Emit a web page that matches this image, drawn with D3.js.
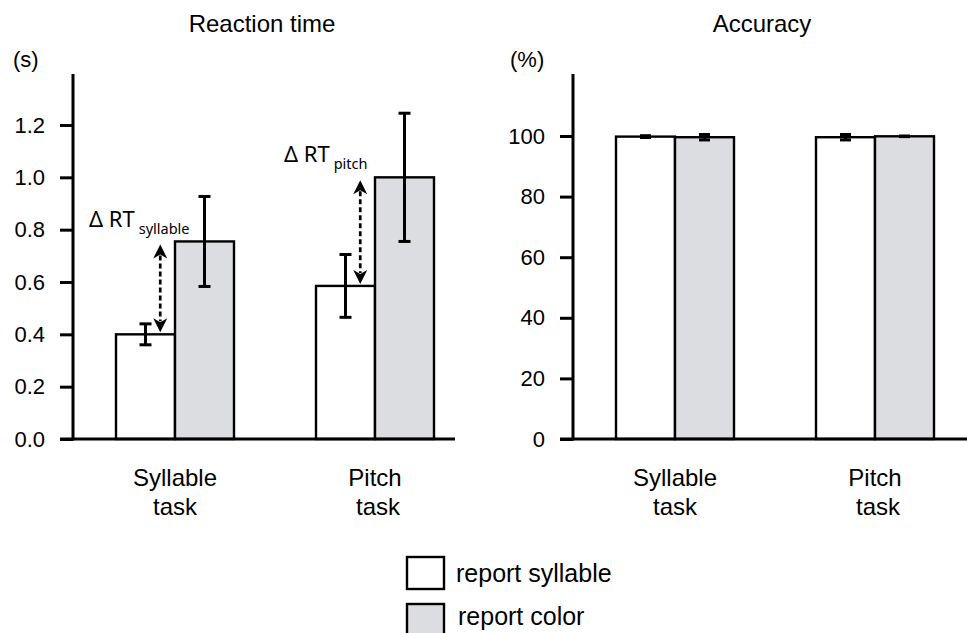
<!DOCTYPE html>
<html>
<head>
<meta charset="utf-8">
<script src="https://cdn.jsdelivr.net/npm/d3@7"></script>
<style>
  body { margin: 0; background: #fff; }
  svg { display: block; font-family: "Liberation Sans", Arial, sans-serif; }
</style>
</head>
<body>
<svg id="chart" width="967" height="633"></svg>
<script>
// data
const categories = ["Syllable task", "Pitch task"];
const categoryLines = [["Syllable", "task"], ["Pitch", "task"]];
const series = ["report syllable", "report color"];

// reaction time (s)
const rtSyllable = [0.40, 0.585];
const rtSyllableErr = [0.04, 0.12];
const rtColor = [0.755, 1.00];
const rtColorErr = [0.172, 0.245];
const rtTicks = [0, 0.2, 0.4, 0.6, 0.8, 1.0, 1.2];

// accuracy (%)
const accSyllable = [99.8, 99.6];
const accSyllableErr = [0.3, 0.9];
const accColor = [99.6, 99.9];
const accColorErr = [0.9, 0.1];
const accTicks = [0, 20, 40, 60, 80, 100];

const deltaLabels = ["syllable", "pitch"];

const fills = { "report syllable": "#ffffff", "report color": "#dcdde0" };

const svg = d3.select("#chart");

// layout shared by both panels (local coords)
const axisX = 73, baseY = 439, axisTop = 74;

function drawPanel(opts) {
  const g = svg.append("g").attr("transform", `translate(${opts.offset},0)`);

  const x0 = d3.scaleBand().domain(categories).range([84, 466])
    .paddingInner(0.41).paddingOuter(0.16);
  const x1 = d3.scaleBand().domain(series).range([0, x0.bandwidth()]);
  const y = d3.scaleLinear().domain(opts.domain).range([baseY, opts.topPx]);

  // rows: one per bar
  const rows = [];
  categories.forEach((c, i) => {
    rows.push({ cat: c, s: series[0], v: opts.a[i], e: opts.aErr[i] });
    rows.push({ cat: c, s: series[1], v: opts.b[i], e: opts.bErr[i] });
  });

  // y axis ticks
  const yAxis = d3.axisLeft(y).tickValues(opts.ticks).tickSize(13).tickPadding(15)
    .tickFormat(opts.fmt);
  const ag = g.append("g").attr("transform", `translate(${axisX},0)`).call(yAxis);
  ag.select(".domain").remove();
  ag.selectAll(".tick line").attr("stroke", "#000").attr("stroke-width", 3);
  ag.selectAll(".tick text").attr("font-size", 22).attr("fill", "#000")
    .attr("font-family", "Liberation Sans, Arial, sans-serif");

  // bars
  g.append("g").selectAll("rect").data(rows).join("rect")
    .attr("x", d => x0(d.cat) + x1(d.s))
    .attr("y", d => y(d.v))
    .attr("width", x1.bandwidth())
    .attr("height", d => baseY - y(d.v))
    .attr("fill", d => fills[d.s])
    .attr("stroke", "#000")
    .attr("stroke-width", 2.4);

  // error bars
  const eb = g.append("g").attr("stroke", "#000").attr("stroke-width", 3);
  rows.forEach(d => {
    const cx = x0(d.cat) + x1(d.s) + x1.bandwidth() / 2;
    const hi = y(d.v + d.e), lo = y(d.v - d.e);
    eb.append("line").attr("x1", cx).attr("x2", cx).attr("y1", hi).attr("y2", lo);
    eb.append("line").attr("x1", cx - opts.cap / 2).attr("x2", cx + opts.cap / 2).attr("y1", hi).attr("y2", hi);
    eb.append("line").attr("x1", cx - opts.cap / 2).attr("x2", cx + opts.cap / 2).attr("y1", lo).attr("y2", lo);
  });

  // axis lines
  g.append("line").attr("x1", axisX).attr("x2", axisX).attr("y1", axisTop).attr("y2", baseY + 1.5)
    .attr("stroke", "#000").attr("stroke-width", 3);
  g.append("line").attr("x1", 60).attr("x2", opts.xEnd).attr("y1", baseY).attr("y2", baseY)
    .attr("stroke", "#000").attr("stroke-width", 3);

  // category labels
  categories.forEach((c, i) => {
    const t = g.append("text").attr("text-anchor", "middle").attr("font-size", 24)
      .attr("x", x0(c) + x0.bandwidth() / 2).attr("y", 486);
    categoryLines[i].forEach((ln, k) => {
      t.append("tspan").attr("x", x0(c) + x0.bandwidth() / 2 + (k === 1 && i === 1 ? 3 : 0))
        .attr("dy", k === 0 ? 0 : 29).text(ln);
    });
  });

  // title and unit
  g.append("text").attr("x", 262).attr("y", 32).attr("text-anchor", "middle")
    .attr("font-size", 24).text(opts.title);
  g.append("text").attr("x", opts.unitX).attr("y", 67).attr("font-size", 22).text(opts.unit);

  return { g, x0, x1, y };
}

const left = drawPanel({
  offset: 0, domain: [0, 1.2], topPx: 125, ticks: rtTicks, fmt: d3.format(".1f"),
  a: rtSyllable, aErr: rtSyllableErr, b: rtColor, bErr: rtColorErr,
  cap: 12, xEnd: 455, title: "Reaction time", unit: "(s)", unitX: 13
});

drawPanel({
  offset: 500, domain: [0, 100], topPx: 136, ticks: accTicks, fmt: d3.format("d"),
  a: accSyllable, aErr: accSyllableErr, b: accColor, bErr: accColorErr,
  cap: 11, xEnd: 470, title: "Accuracy", unit: "(%)", unitX: 10
});

// ΔRT dashed double arrows between the two RT bars
function arrowHead(g, x, tipY, dir) {
  // dir = -1 points up, +1 points down
  const L = 14, W = 7, N = 10;
  const p = d3.path();
  p.moveTo(x, tipY);
  p.lineTo(x - W, tipY - dir * L);
  p.lineTo(x, tipY - dir * N);
  p.lineTo(x + W, tipY - dir * L);
  p.closePath();
  g.append("path").attr("d", p.toString()).attr("fill", "#000");
}

const ann = left.g.append("g");
const labelPos = [{ x: 89, y: 227 }, { x: 284, y: 162 }];
categories.forEach((c, i) => {
  const ax = left.x0(c) + left.x1.bandwidth() * 0.75;
  const yLo = left.y(rtSyllable[i]) - 2;
  const yHi = left.y(rtColor[i]) + 3;
  ann.append("line").attr("x1", ax).attr("x2", ax).attr("y1", yHi + 11).attr("y2", yLo - 11)
    .attr("stroke", "#000").attr("stroke-width", 2.7).attr("stroke-dasharray", "5,3");
  arrowHead(ann, ax, yHi, -1);
  arrowHead(ann, ax, yLo, 1);

  const t = ann.append("text").attr("x", labelPos[i].x).attr("y", labelPos[i].y)
    .attr("font-family", "Noto Sans, sans-serif").attr("font-size", 22);
  t.append("tspan").text("\u0394 RT");
  t.append("tspan").attr("font-size", 14.5).attr("dx", 4).attr("dy", 7).text(deltaLabels[i]);
});

// legend
const lg = svg.append("g");
series.forEach((s, i) => {
  lg.append("rect").attr("x", 407).attr("y", 557 + i * 47).attr("width", 37).attr("height", 32)
    .attr("fill", fills[s]).attr("stroke", "#000").attr("stroke-width", 2.4);
  lg.append("text").attr("x", 456 + i * 2).attr("y", 582 + i * 43).attr("font-size", 25).text(s);
});
</script>
</body>
</html>
